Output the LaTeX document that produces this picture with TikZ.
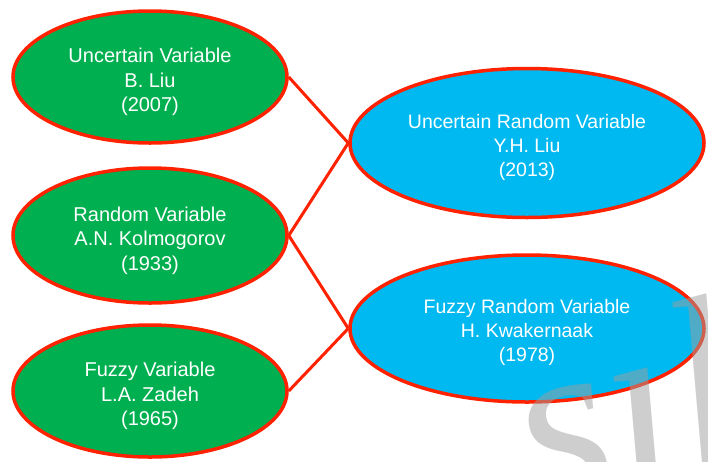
\documentclass[tikz,border=0pt]{standalone}
\usepackage{fontspec}
\setmainfont{Liberation Sans}
\newfontfamily\wmfont{Liberation Serif}
\usetikzlibrary{shapes.geometric}
\definecolor{grn}{HTML}{00B050}
\definecolor{blu}{HTML}{00B9F0}
\definecolor{rd}{HTML}{FF2200}
\tikzset{
  var/.style={ellipse, draw=rd, line width=3.5pt, text=white, align=center, inner sep=0pt,
    font=\fontsize{20}{24.5}\selectfont},
  gvar/.style={var, fill=grn, minimum width=274pt, minimum height=132pt},
  bvar/.style={var, fill=blu, minimum width=354pt, minimum height=149pt,
    font=\fontsize{19.5}{24}\selectfont},
  link/.style={draw=rd, line width=3pt}
}
\newcommand{\fl}{\rule{0pt}{25pt}}
\begin{document}
\begin{tikzpicture}[x=1pt, y=-1pt]
\useasboundingbox (0,0) rectangle (708,461);
\path[fill=white] (0,0) rectangle (708,461);
\node[gvar] (uv) at (150,77) {\fl Uncertain Variable\\B. Liu\\(2007)};
\node[gvar, minimum height=135pt] (rv) at (150,235.5) {\fl Random Variable\\A.N. Kolmogorov\\(1933)};
\node[gvar] (fv) at (150,391) {\fl Fuzzy Variable\\L.A. Zadeh\\(1965)};
\node[bvar] (urv) at (527,143) {\rule{0pt}{23pt}Uncertain Random Variable\\Y.H. Liu\\(2013)};
\node[bvar, minimum height=147pt] (frv) at (527,328.5) {\rule{0pt}{23pt}Fuzzy Random Variable\\H. Kwakernaak\\(1978)};
\draw[link] (uv.east) -- (urv.west);
\draw[link] (rv.east) -- (urv.west);
\draw[link] (rv.east) -- (frv.west);
\draw[link] (fv.east) -- (frv.west);
\begin{scope}
\clip (0,0) rectangle (708,461);
\node[text=black!38, opacity=0.5, rotate=15, anchor=base west, inner sep=0pt,
  font=\wmfont\itshape\fontsize{240}{240}\selectfont] (wm) at (536,512) {s\i l};
\end{scope}
\end{tikzpicture}
\end{document}
